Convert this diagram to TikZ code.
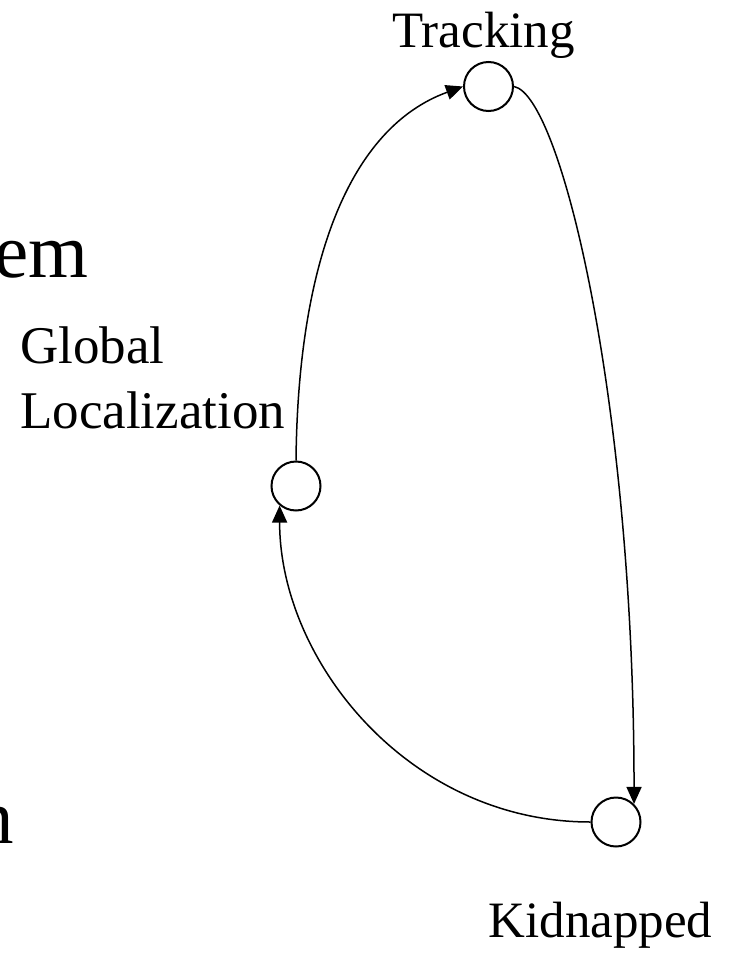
\documentclass[tikz,border=0pt]{standalone}
\usepackage{fontspec}
\setmainfont{Liberation Serif}
\usetikzlibrary{arrows.meta}

\tikzset{
	state/.style={circle, draw, line width=2pt, minimum size=49pt, inner sep=0pt},
	trans/.style={line width=1.5pt, -{Triangle[length=17pt, width=15pt]}},
	lbl/.style={inner sep=0pt, font=\fontsize{51}{65}\selectfont},
	big/.style={inner sep=0pt, font=\fontsize{77}{90}\selectfont}
}

\begin{document}
\begin{tikzpicture}[x=1pt, y=-1pt]
			%%%%% START %%%%%
			
			\useasboundingbox (0, 0) rectangle (735, 953);
			\clip (0, 0) rectangle (735, 953);
			
			% slide text running in from the left
			\node[big, anchor=base east] (wordtop) at (89, 277) {em};
			\node[big, anchor=base east] (wordbot) at (14, 843) {n};
			
			% the three states
			\node[state] (tracking) at (488.5, 86.5) {};
			\node[state] (global) at (296, 486) {};
			\node[state] (kidnapped) at (616, 822) {};
			
			\node[lbl, anchor=base] (trackinglbl) at (483.5, 47) {Tracking};
			\node[lbl, font=\fontsize{53}{65}\selectfont, anchor=base west, align=left] (globallbl) at (20, 428) {Global\\Localization};
			\node[lbl, anchor=base] (kidnappedlbl) at (600.5, 937) {Kidnapped};
			
			% transitions
			\draw[trans] (global.north) .. controls +(2, -200) and +(-113, 41) .. (tracking.west);
			\draw[trans] (tracking.east) .. controls +(47, 9) and +(0, -403) .. (kidnapped.45);
			\draw[trans] (kidnapped.west) .. controls +(-182, 0) and +(0, 155) .. (global.230);
			
			%%%%% END %%%%%
\end{tikzpicture}
\end{document}
